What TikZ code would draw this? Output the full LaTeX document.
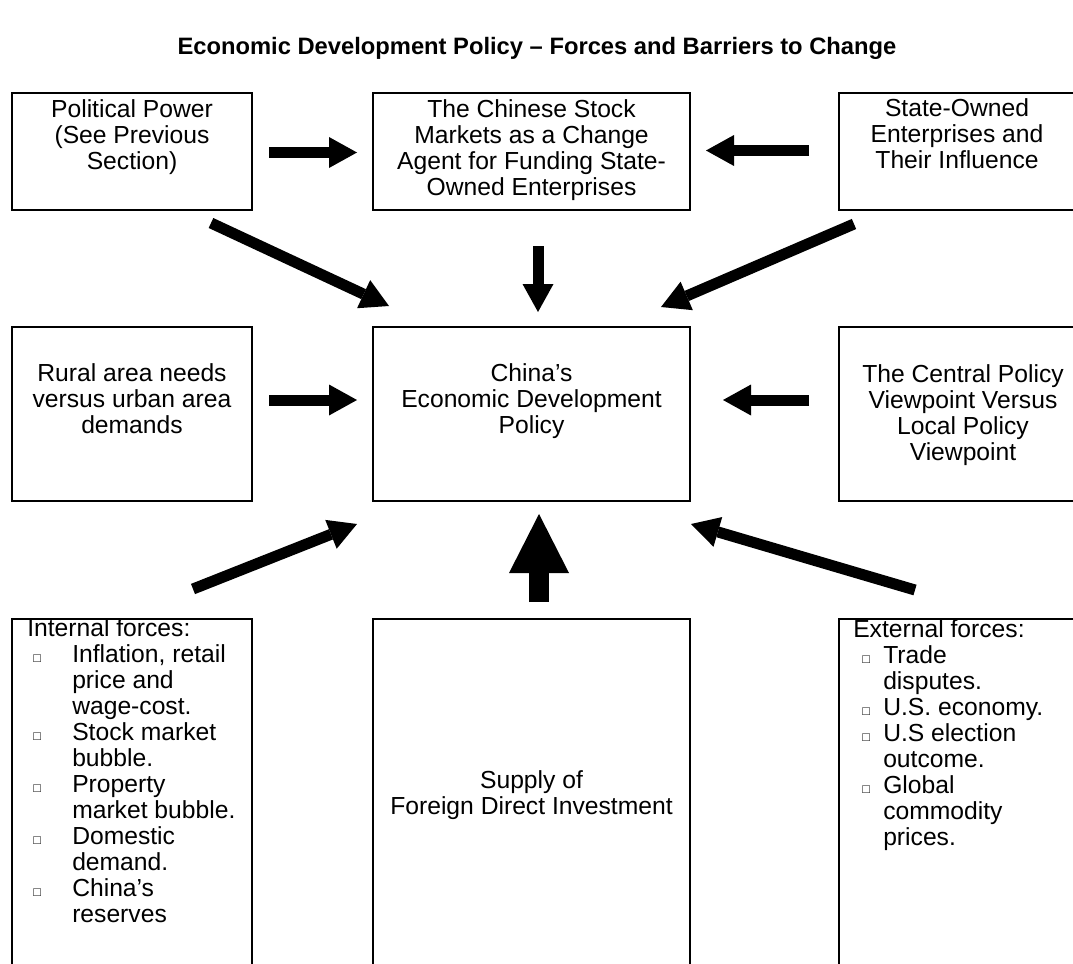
\documentclass[tikz,border=0pt]{standalone}
\usepackage{fontspec}
\setmainfont{Liberation Sans}
\usetikzlibrary{arrows.meta,calc}
\newcommand{\sqbul}{{\fontsize{9.5}{9.5}\selectfont □}}
\begin{document}
\begin{tikzpicture}[x=0.75pt,y=-0.75pt,
  box/.style={draw,line width=1.5pt,inner sep=0pt},
  txt/.style={font=\fontsize{18.5}{19.5}\selectfont, align=center, inner sep=0pt, anchor=base},
  lst/.style={font=\fontsize{18.5}{19.5}\selectfont, align=left, inner sep=0pt, anchor=base west},
  arr/.style={line width=8.25pt,-{Triangle[length=21pt,width=23.25pt,line width=0pt]}},
  bigarr/.style={line width=15pt,-{Triangle[length=44.25pt,width=45pt,line width=0pt]}}]
\useasboundingbox (0,0) rectangle (1073,963);
\clip (0,0) rectangle (1073,963);
% title
\node[txt,font=\fontsize{17.8}{19.5}\selectfont\bfseries] (title) at (537,55) {Economic Development Policy – Forces and Barriers to Change};
% boxes
\node[box,minimum width=180pt,minimum height=87.75pt] (pol) at (132,151.5) {};
\node[box,minimum width=237.75pt,minimum height=87.75pt] (stock) at (531.5,151.5) {};
\node[box,minimum width=180.75pt,minimum height=87.75pt] (soe) at (959.5,151.5) {};
\node[box,minimum width=180pt,minimum height=130.5pt] (rural) at (132,414) {};
\node[box,minimum width=237.75pt,minimum height=130.5pt] (china) at (531.5,414) {};
\node[box,minimum width=180.75pt,minimum height=130.5pt] (central) at (959.5,414) {};
\node[box,minimum width=180pt,minimum height=267pt] (internal) at (132,797) {};
\node[box,minimum width=237.75pt,minimum height=267pt] (fdi) at (531.5,797) {};
\node[box,minimum width=180.75pt,minimum height=267pt] (external) at (959.5,797) {};
% texts (anchor = baseline of the last line)
\node[txt] (polt) at (132,169) {Political Power\\(See Previous\\Section)};
\node[txt] (stockt) at (531.5,195) {The Chinese Stock\\Markets as a Change\\Agent for Funding State-\\Owned Enterprises};
\node[txt] (soet) at (957,168) {State-Owned\\Enterprises and\\Their Influence};
\node[txt] (ruralt) at (132,433) {Rural area needs\\versus urban area\\demands};
\node[txt] (chinat) at (531.5,433) {China’s\\Economic Development\\Policy};
\node[txt] (centralt) at (963,460) {The Central Policy\\Viewpoint Versus\\Local Policy\\Viewpoint};
\node[txt] (fdit) at (531.5,814) {Supply of\\Foreign Direct Investment};
\node[lst] (internalt) at (27,922) {Internal forces:\\
\hspace*{4.5pt}\makebox[29.25pt][l]{\sqbul}Inflation, retail\\
\hspace*{33.75pt}price and\\
\hspace*{33.75pt}wage-cost.\\
\hspace*{4.5pt}\makebox[29.25pt][l]{\sqbul}Stock market\\
\hspace*{33.75pt}bubble.\\
\hspace*{4.5pt}\makebox[29.25pt][l]{\sqbul}Property\\
\hspace*{33.75pt}market bubble.\\
\hspace*{4.5pt}\makebox[29.25pt][l]{\sqbul}Domestic\\
\hspace*{33.75pt}demand.\\
\hspace*{4.5pt}\makebox[29.25pt][l]{\sqbul}China’s\\
\hspace*{33.75pt}reserves};
\node[lst] (externalt) at (853,845) {External forces:\\
\hspace*{6.75pt}\makebox[15.75pt][l]{\sqbul}Trade\\
\hspace*{22.5pt}disputes.\\
\hspace*{6.75pt}\makebox[15.75pt][l]{\sqbul}U.S. economy.\\
\hspace*{6.75pt}\makebox[15.75pt][l]{\sqbul}U.S election\\
\hspace*{22.5pt}outcome.\\
\hspace*{6.75pt}\makebox[15.75pt][l]{\sqbul}Global\\
\hspace*{22.5pt}commodity\\
\hspace*{22.5pt}prices.};
% arrows
\draw[arr] ($(pol.east)+(16,1)$) -- ($(stock.west)+(-15,1)$);
\draw[arr] ($(soe.west)+(-29,-1)$) -- ($(stock.east)+(15,-1)$);
\draw[arr] ($(pol.south east)+(-42,12)$) -- ($(china.north west)+(17,-20)$);
\draw[arr] ($(stock.south)+(6.5,35)$) -- ($(china.north)+(6.5,-14)$);
\draw[arr] ($(soe.south west)+(16,13)$) -- ($(china.north east)+(-30,-19)$);
\draw[arr] ($(rural.east)+(16,-14)$) -- ($(china.west)+(-15,-14)$);
\draw[arr] ($(central.west)+(-29,-14)$) -- ($(china.east)+(32,-14)$);
\draw[arr] ($(internal.north east)+(-60,-29)$) -- ($(china.south west)+(-15,22)$);
\draw[bigarr] ($(fdi.north)+(7.5,-16)$) -- ($(china.south)+(7.5,12)$);
\draw[arr] ($(external.north west)+(77,-28)$) -- ($(china.south east)+(0,22)$);
\end{tikzpicture}
\end{document}
